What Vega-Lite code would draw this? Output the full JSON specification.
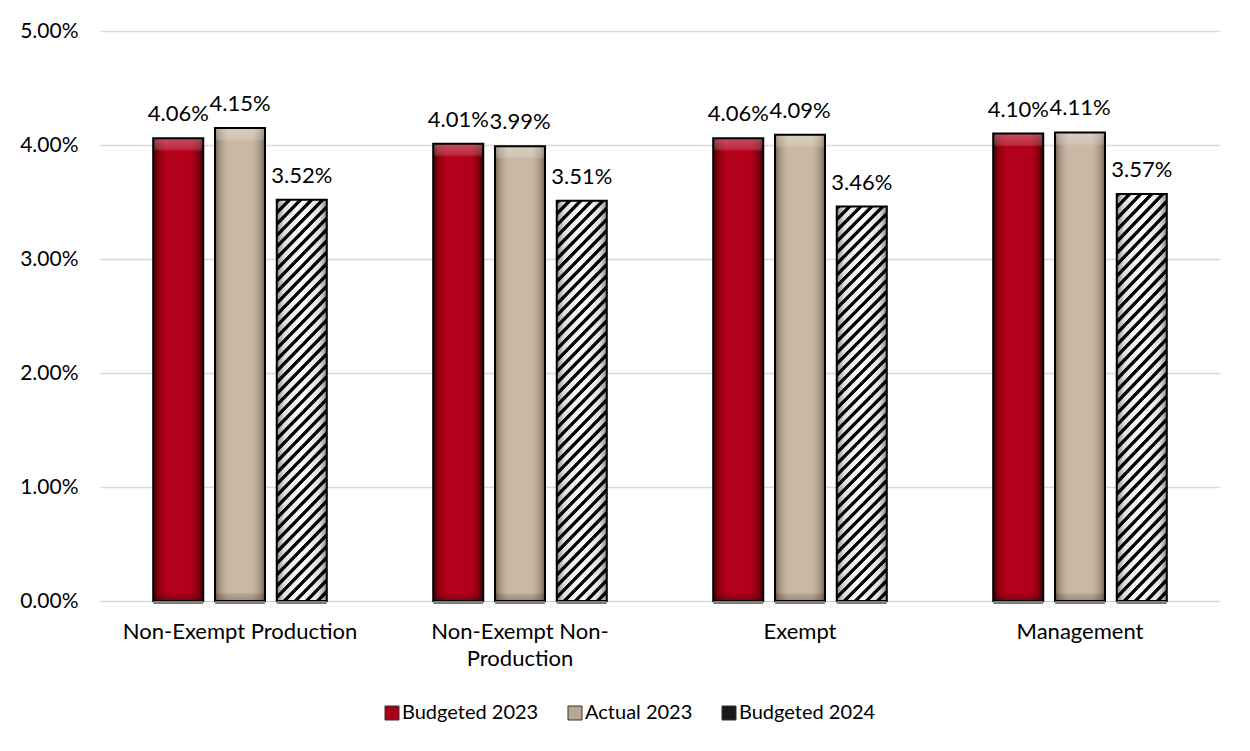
{
  "$schema": "https://vega.github.io/schema/vega-lite/v6.json",
  "width": 1120,
  "height": 570,
  "autosize": {"type": "none"},
  "padding": {"left": 100, "top": 31, "right": 30, "bottom": 150},
  "background": "white",
  "config": {
    "font": "Lato",
    "view": {"stroke": null},
    "axis": {"labelColor": "#000", "labelFont": "Lato"},
    "legend": {"labelFont": "Lato"}
  },
  "data": {
    "values": [
      {"category": "Non-Exempt Production", "series": "Budgeted 2023", "value": 0.0406},
      {"category": "Non-Exempt Production", "series": "Actual 2023", "value": 0.0415},
      {"category": "Non-Exempt Production", "series": "Budgeted 2024", "value": 0.0352},
      {"category": "Non-Exempt Non-Production", "series": "Budgeted 2023", "value": 0.0401},
      {"category": "Non-Exempt Non-Production", "series": "Actual 2023", "value": 0.0399},
      {"category": "Non-Exempt Non-Production", "series": "Budgeted 2024", "value": 0.0351},
      {"category": "Exempt", "series": "Budgeted 2023", "value": 0.0406},
      {"category": "Exempt", "series": "Actual 2023", "value": 0.0409},
      {"category": "Exempt", "series": "Budgeted 2024", "value": 0.0346},
      {"category": "Management", "series": "Budgeted 2023", "value": 0.041},
      {"category": "Management", "series": "Actual 2023", "value": 0.0411},
      {"category": "Management", "series": "Budgeted 2024", "value": 0.0357}
    ]
  },
  "encoding": {
    "x": {
      "field": "category", "type": "nominal", "sort": null,
      "scale": {"paddingInner": 0.38, "paddingOuter": 0.19},
      "axis": {
        "title": null, "labelAngle": 0, "domain": false, "ticks": false,
        "labelFontSize": 22, "labelPadding": 20, "labelLimit": 400, "labelLineHeight": 27,
        "labelExpr": "datum.label == 'Non-Exempt Non-Production' ? ['Non-Exempt Non-', 'Production'] : datum.label"
      }
    },
    "xOffset": {
      "field": "series", "type": "nominal", "sort": ["Budgeted 2023", "Actual 2023", "Budgeted 2024"],
      "scale": {"paddingInner": 0.19, "paddingOuter": 0}
    },
    "y": {
      "field": "value", "type": "quantitative",
      "scale": {"domain": [0, 0.05]},
      "axis": {
        "title": null, "format": ".2%", "values": [0, 0.01, 0.02, 0.03, 0.04, 0.05],
        "domain": false, "ticks": false, "labelFontSize": 21, "labelPadding": 22,
        "gridColor": "#d9d9d9", "gridWidth": 1.3
      }
    }
  },
  "layer": [
    {
      "mark": {"type": "bar"},
      "encoding": {
        "color": {
          "field": "series", "type": "nominal", "sort": ["Budgeted 2023", "Actual 2023", "Budgeted 2024"],
          "scale": {"domain": ["Budgeted 2023", "Actual 2023", "Budgeted 2024"], "range": ["#a8001a", "#b8a692", "#1a1a1a"]},
          "condition": [
            {"test": "datum.series === 'Budgeted 2023'", "value": {"gradient": "linear", "x1": 0, "y1": 0, "x2": 1, "y2": 0, "stops": [
              {"offset": 0, "color": "#3d0005"}, {"offset": 0.1, "color": "#8a000f"}, {"offset": 0.25, "color": "#b3001b"},
              {"offset": 0.75, "color": "#b3001b"}, {"offset": 0.9, "color": "#8a000f"}, {"offset": 1, "color": "#3d0005"}]}},
            {"test": "datum.series === 'Actual 2023'", "value": {"gradient": "linear", "x1": 0, "y1": 0, "x2": 1, "y2": 0, "stops": [
              {"offset": 0, "color": "#6f6254"}, {"offset": 0.1, "color": "#a89886"}, {"offset": 0.25, "color": "#c9b8a4"},
              {"offset": 0.75, "color": "#c9b8a4"}, {"offset": 0.9, "color": "#a89886"}, {"offset": 1, "color": "#6f6254"}]}},
            {"test": "datum.series === 'Budgeted 2024'", "value": {"gradient": "linear", "x1": 0, "y1": 0, "x2": 0.1415, "y2": 1.1095, "stops": [
              {"offset": 0, "color": "#000"}, {"offset": 0.008, "color": "#000"}, {"offset": 0.0105, "color": "#fff"}, {"offset": 0.0225, "color": "#fff"},
              {"offset": 0.025, "color": "#000"}, {"offset": 0.033, "color": "#000"}, {"offset": 0.0355, "color": "#fff"}, {"offset": 0.0475, "color": "#fff"},
              {"offset": 0.05, "color": "#000"}, {"offset": 0.058, "color": "#000"}, {"offset": 0.0605, "color": "#fff"}, {"offset": 0.0725, "color": "#fff"},
              {"offset": 0.075, "color": "#000"}, {"offset": 0.083, "color": "#000"}, {"offset": 0.0855, "color": "#fff"}, {"offset": 0.0975, "color": "#fff"},
              {"offset": 0.1, "color": "#000"}, {"offset": 0.108, "color": "#000"}, {"offset": 0.1105, "color": "#fff"}, {"offset": 0.1225, "color": "#fff"},
              {"offset": 0.125, "color": "#000"}, {"offset": 0.133, "color": "#000"}, {"offset": 0.1355, "color": "#fff"}, {"offset": 0.1475, "color": "#fff"},
              {"offset": 0.15, "color": "#000"}, {"offset": 0.158, "color": "#000"}, {"offset": 0.1605, "color": "#fff"}, {"offset": 0.1725, "color": "#fff"},
              {"offset": 0.175, "color": "#000"}, {"offset": 0.183, "color": "#000"}, {"offset": 0.1855, "color": "#fff"}, {"offset": 0.1975, "color": "#fff"},
              {"offset": 0.2, "color": "#000"}, {"offset": 0.208, "color": "#000"}, {"offset": 0.2105, "color": "#fff"}, {"offset": 0.2225, "color": "#fff"},
              {"offset": 0.225, "color": "#000"}, {"offset": 0.233, "color": "#000"}, {"offset": 0.2355, "color": "#fff"}, {"offset": 0.2475, "color": "#fff"},
              {"offset": 0.25, "color": "#000"}, {"offset": 0.258, "color": "#000"}, {"offset": 0.2605, "color": "#fff"}, {"offset": 0.2725, "color": "#fff"},
              {"offset": 0.275, "color": "#000"}, {"offset": 0.283, "color": "#000"}, {"offset": 0.2855, "color": "#fff"}, {"offset": 0.2975, "color": "#fff"},
              {"offset": 0.3, "color": "#000"}, {"offset": 0.308, "color": "#000"}, {"offset": 0.3105, "color": "#fff"}, {"offset": 0.3225, "color": "#fff"},
              {"offset": 0.325, "color": "#000"}, {"offset": 0.333, "color": "#000"}, {"offset": 0.3355, "color": "#fff"}, {"offset": 0.3475, "color": "#fff"},
              {"offset": 0.35, "color": "#000"}, {"offset": 0.358, "color": "#000"}, {"offset": 0.3605, "color": "#fff"}, {"offset": 0.3725, "color": "#fff"},
              {"offset": 0.375, "color": "#000"}, {"offset": 0.383, "color": "#000"}, {"offset": 0.3855, "color": "#fff"}, {"offset": 0.3975, "color": "#fff"},
              {"offset": 0.4, "color": "#000"}, {"offset": 0.408, "color": "#000"}, {"offset": 0.4105, "color": "#fff"}, {"offset": 0.4225, "color": "#fff"},
              {"offset": 0.425, "color": "#000"}, {"offset": 0.433, "color": "#000"}, {"offset": 0.4355, "color": "#fff"}, {"offset": 0.4475, "color": "#fff"},
              {"offset": 0.45, "color": "#000"}, {"offset": 0.458, "color": "#000"}, {"offset": 0.4605, "color": "#fff"}, {"offset": 0.4725, "color": "#fff"},
              {"offset": 0.475, "color": "#000"}, {"offset": 0.483, "color": "#000"}, {"offset": 0.4855, "color": "#fff"}, {"offset": 0.4975, "color": "#fff"},
              {"offset": 0.5, "color": "#000"}, {"offset": 0.508, "color": "#000"}, {"offset": 0.5105, "color": "#fff"}, {"offset": 0.5225, "color": "#fff"},
              {"offset": 0.525, "color": "#000"}, {"offset": 0.533, "color": "#000"}, {"offset": 0.5355, "color": "#fff"}, {"offset": 0.5475, "color": "#fff"},
              {"offset": 0.55, "color": "#000"}, {"offset": 0.558, "color": "#000"}, {"offset": 0.5605, "color": "#fff"}, {"offset": 0.5725, "color": "#fff"},
              {"offset": 0.575, "color": "#000"}, {"offset": 0.583, "color": "#000"}, {"offset": 0.5855, "color": "#fff"}, {"offset": 0.5975, "color": "#fff"},
              {"offset": 0.6, "color": "#000"}, {"offset": 0.608, "color": "#000"}, {"offset": 0.6105, "color": "#fff"}, {"offset": 0.6225, "color": "#fff"},
              {"offset": 0.625, "color": "#000"}, {"offset": 0.633, "color": "#000"}, {"offset": 0.6355, "color": "#fff"}, {"offset": 0.6475, "color": "#fff"},
              {"offset": 0.65, "color": "#000"}, {"offset": 0.658, "color": "#000"}, {"offset": 0.6605, "color": "#fff"}, {"offset": 0.6725, "color": "#fff"},
              {"offset": 0.675, "color": "#000"}, {"offset": 0.683, "color": "#000"}, {"offset": 0.6855, "color": "#fff"}, {"offset": 0.6975, "color": "#fff"},
              {"offset": 0.7, "color": "#000"}, {"offset": 0.708, "color": "#000"}, {"offset": 0.7105, "color": "#fff"}, {"offset": 0.7225, "color": "#fff"},
              {"offset": 0.725, "color": "#000"}, {"offset": 0.733, "color": "#000"}, {"offset": 0.7355, "color": "#fff"}, {"offset": 0.7475, "color": "#fff"},
              {"offset": 0.75, "color": "#000"}, {"offset": 0.758, "color": "#000"}, {"offset": 0.7605, "color": "#fff"}, {"offset": 0.7725, "color": "#fff"},
              {"offset": 0.775, "color": "#000"}, {"offset": 0.783, "color": "#000"}, {"offset": 0.7855, "color": "#fff"}, {"offset": 0.7975, "color": "#fff"},
              {"offset": 0.8, "color": "#000"}, {"offset": 0.808, "color": "#000"}, {"offset": 0.8105, "color": "#fff"}, {"offset": 0.8225, "color": "#fff"},
              {"offset": 0.825, "color": "#000"}, {"offset": 0.833, "color": "#000"}, {"offset": 0.8355, "color": "#fff"}, {"offset": 0.8475, "color": "#fff"},
              {"offset": 0.85, "color": "#000"}, {"offset": 0.858, "color": "#000"}, {"offset": 0.8605, "color": "#fff"}, {"offset": 0.8725, "color": "#fff"},
              {"offset": 0.875, "color": "#000"}, {"offset": 0.883, "color": "#000"}, {"offset": 0.8855, "color": "#fff"}, {"offset": 0.8975, "color": "#fff"},
              {"offset": 0.9, "color": "#000"}, {"offset": 0.908, "color": "#000"}, {"offset": 0.9105, "color": "#fff"}, {"offset": 0.9225, "color": "#fff"},
              {"offset": 0.925, "color": "#000"}, {"offset": 0.933, "color": "#000"}, {"offset": 0.9355, "color": "#fff"}, {"offset": 0.9475, "color": "#fff"},
              {"offset": 0.95, "color": "#000"}, {"offset": 0.958, "color": "#000"}, {"offset": 0.9605, "color": "#fff"}, {"offset": 0.9725, "color": "#fff"},
              {"offset": 0.975, "color": "#000"}, {"offset": 0.983, "color": "#000"}, {"offset": 0.9855, "color": "#fff"}, {"offset": 0.9975, "color": "#fff"},
              {"offset": 1, "color": "#000"}]}}
          ],
          "legend": {
            "title": null, "orient": "none", "direction": "horizontal", "legendX": 282, "legendY": 672,
            "symbolType": "square", "symbolSize": 196, "symbolStrokeColor": "#333", "symbolStrokeWidth": 1,
            "labelFontSize": 20, "labelColor": "#000", "labelOffset": 0, "columnPadding": 26
          }
        }
      }
    },
    {
      "transform": [{"filter": "datum.series !== 'Budgeted 2024'"}],
      "mark": {"type": "bar", "stroke": "#000", "strokeWidth": 2,
        "fill": {"gradient": "linear", "x1": 0, "y1": 0, "x2": 0, "y2": 1, "stops": [
          {"offset": 0, "color": "rgba(255,255,255,0.3)"}, {"offset": 0.024, "color": "rgba(255,255,255,0.16)"},
          {"offset": 0.028, "color": "rgba(255,255,255,0)"}, {"offset": 0.982, "color": "rgba(0,0,0,0)"},
          {"offset": 0.985, "color": "rgba(0,0,0,0.1)"}, {"offset": 1, "color": "rgba(0,0,0,0.25)"}]}}
    },
    {
      "transform": [{"filter": "datum.series === 'Budgeted 2024'"}],
      "mark": {"type": "bar", "stroke": "#000", "strokeWidth": 2,
        "fill": {"gradient": "linear", "x1": 0, "y1": 0, "x2": 1, "y2": 0, "stops": [
          {"offset": 0, "color": "rgba(0,0,0,0.45)"}, {"offset": 0.15, "color": "rgba(0,0,0,0.12)"},
          {"offset": 0.5, "color": "rgba(0,0,0,0)"}, {"offset": 0.85, "color": "rgba(0,0,0,0.12)"},
          {"offset": 1, "color": "rgba(0,0,0,0.45)"}]}}
    },
    {
      "mark": {"type": "tick", "color": "#7f7f7f", "thickness": 3, "size": 50, "yOffset": 1.5, "opacity": 1},
      "encoding": {"y": {"datum": 0}}
    },
    {
      "mark": {"type": "text", "fontSize": 22, "color": "#000", "dy": -17, "baseline": "alphabetic"},
      "encoding": {"text": {"field": "value", "type": "quantitative", "format": ".2%"}}
    }
  ]
}
